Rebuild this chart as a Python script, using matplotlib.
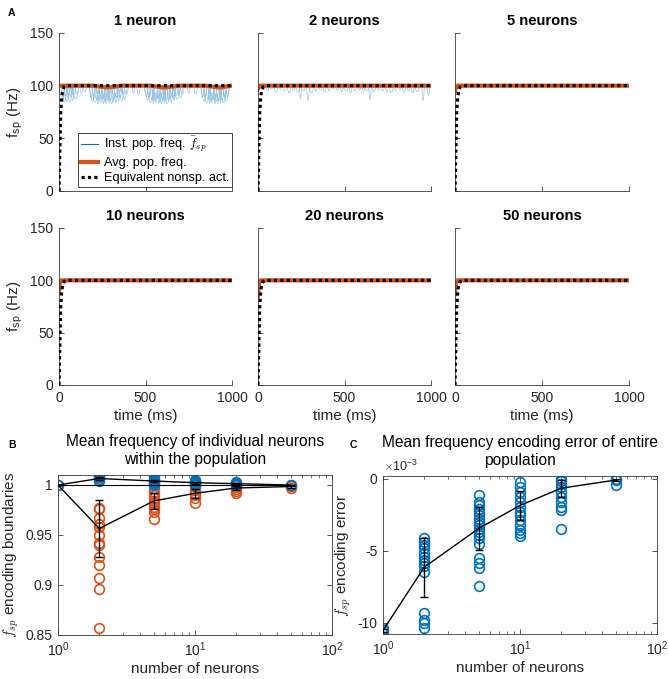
import matplotlib
matplotlib.use('Agg')
import matplotlib.pyplot as plt
from matplotlib.lines import Line2D
import numpy as np

plt.rcParams['font.family'] = ['Liberation Sans', 'DejaVu Sans']
plt.rcParams['mathtext.fontset'] = 'cm'
plt.rcParams['axes.unicode_minus'] = False

BLUE = '#0072BD'
ORANGE = '#D95319'
AXC = '#3a3a3a'
TXT = '#262626'

# ---------------- data: panel A ----------------
panel_titles = ['1 neuron', '2 neurons', '5 neurons', '10 neurons', '20 neurons', '50 neurons']
avg_start = [100, 97, 95, 90, 85, 87]          # avg pop. freq at t=0 (Hz)

# instantaneous population frequency: dips below 100 Hz (time ms, minimum Hz)
dip1_t = [22, 30, 38, 46, 54, 62, 70, 78, 86, 95, 104, 130, 150,
          185, 193, 201, 209, 217, 225, 233, 241, 249, 257, 265, 273, 281, 289, 297, 305, 313,
          321, 329, 337, 345, 353, 362, 371, 380, 390, 430, 460,
          505, 513, 521, 529, 537, 545, 553, 561, 569, 577, 585, 593, 601, 609, 617, 625, 633,
          641, 649, 657, 665, 674, 683, 693, 703, 713, 750, 790,
          830, 838, 846, 854, 862, 870, 878, 886, 894, 902, 910, 918, 926, 934, 942, 950, 958, 966, 974]
dip1_f = [87, 84, 89, 85, 88, 84, 90, 86, 91, 87, 92, 92, 94,
          89, 85, 88, 84, 87, 83, 86, 84, 88, 83, 85, 83, 87, 84, 86, 83, 85,
          88, 84, 89, 85, 90, 86, 91, 87, 92, 93, 91,
          90, 86, 89, 84, 87, 83, 86, 84, 88, 83, 85, 83, 87, 84, 86, 83, 85,
          88, 84, 89, 86, 90, 87, 91, 88, 92, 93, 92,
          89, 85, 88, 84, 87, 83, 86, 84, 87, 83, 85, 83, 86, 84, 87, 84, 88, 85, 89]
dip1_w = [10, 16, 12, 20, 9, 14, 18, 11, 15, 22, 12, 10, 12,
          12, 18, 10, 22, 14, 9, 19, 13, 24, 10, 16, 12, 20, 9, 15, 21, 11,
          17, 13, 23, 10, 15, 19, 12, 16, 14, 10, 12,
          13, 19, 10, 22, 14, 9, 18, 12, 24, 11, 16, 13, 20, 9, 15, 21, 11,
          17, 13, 23, 10, 15, 19, 12, 16, 14, 10, 12,
          12, 18, 10, 22, 14, 9, 19, 13, 24, 10, 16, 12, 20, 9, 15, 21, 11, 17, 13]
dip2_t = [30, 55, 80, 105, 130, 155, 180, 205, 230, 245, 265, 289, 310, 335, 360, 385, 410, 435,
          460, 485, 510, 535, 560, 585, 610, 630, 647, 670, 695, 720, 745, 770, 795, 820, 845,
          870, 895, 920, 954, 985]
dip2_f = [96, 95, 97, 94, 96, 95, 93, 96, 94, 88, 95, 86, 93, 95, 96, 94, 95, 97, 96, 94, 95,
          93, 95, 96, 94, 95, 87, 94, 96, 95, 94, 93, 95, 96, 94, 95, 93, 94, 86, 91]
dip2_w = [14, 10, 16, 12, 9, 15, 13, 11, 16, 8, 12, 9, 14, 10, 16, 12, 9, 15, 13, 11,
          16, 10, 14, 12, 9, 15, 8, 13, 11, 16, 10, 14, 12, 9, 15, 13, 11, 16, 8, 10]
dip_t = [dip1_t, dip2_t, [], [], [], []]
dip_f = [dip1_f, dip2_f, [], [], [], []]
dip_w = [dip1_w, dip2_w, [], [], [], []]

# average population frequency for 1 neuron (slow undulation)
avg1_t = [0, 200, 240, 280, 320, 360, 530, 570, 610, 650, 690, 850, 890, 930, 970, 1000]
avg1_f = [100, 100, 99, 98.2, 99, 100, 100, 99, 98.2, 99, 100, 100, 99, 98.2, 99.3, 100]

# equivalent non-spiking activity
eq_t = [0, 5, 10, 16, 22, 30, 45, 1000]
eq_f = [0, 40, 75, 90, 96, 99, 100, 100]

# ---------------- data: panels B and C ----------------
n_neurons = [1, 2, 5, 10, 20, 50]
upper_pts = {1: [1.0],
             2: [1.0043, 1.006, 1.0077, 1.009, 1.0105],
             5: [1.0, 1.001, 1.002, 1.003, 1.004, 1.005, 1.006, 1.008],
             10: [1.0, 1.001, 1.002, 1.003, 1.004, 1.005],
             20: [1.0, 1.001, 1.002, 1.003],
             50: [1.0, 1.0005]}
lower_pts = {1: [1.0],
             2: [0.9773, 0.9757, 0.9667, 0.961, 0.9583, 0.95, 0.9417, 0.94, 0.9277, 0.92, 0.9067, 0.896, 0.8567],
             5: [0.9967, 0.9933, 0.99, 0.9867, 0.9843, 0.9817, 0.9783, 0.9757, 0.9733, 0.9657],
             10: [0.9977, 0.995, 0.9923, 0.99, 0.9867, 0.9817],
             20: [0.9983, 0.996, 0.994, 0.9923],
             50: [0.999, 0.9967]}
upper_mean = [1.0, 1.0065, 1.004, 1.0023, 1.0013, 1.0]
upper_err = [0.0, 0.0015, 0.0012, 0.0008, 0.0005, 0.0002]
lower_mean = [1.0, 0.9565, 0.984, 0.9917, 0.997, 0.9985]
lower_err = [0.0, 0.0285, 0.008, 0.0045, 0.002, 0.001]
overall_mean = [1.0, 1.0, 1.0, 1.0, 1.0, 1.0]

err_pts = {1: [-10.4e-3, -10.55e-3, -10.7e-3],
           2: [-4.15e-3, -4.38e-3, -4.6e-3, -4.84e-3, -5.18e-3, -5.41e-3, -5.65e-3, -5.88e-3,
               -6.1e-3, -6.45e-3, -9.33e-3, -9.8e-3, -10.0e-3, -10.37e-3],
           5: [-1.15e-3, -1.61e-3, -1.84e-3, -2.07e-3, -2.3e-3, -2.53e-3, -2.76e-3, -3.0e-3, -3.23e-3,
               -3.46e-3, -3.69e-3, -3.92e-3, -4.15e-3, -4.5e-3, -5.53e-3, -5.88e-3, -6.22e-3, -7.49e-3],
           10: [-0.23e-3, -0.58e-3, -0.92e-3, -1.27e-3, -1.61e-3, -1.96e-3, -2.3e-3, -2.53e-3,
                -2.88e-3, -3.23e-3, -3.57e-3, -3.8e-3, -3.99e-3],
           20: [0.0, -0.12e-3, -0.35e-3, -0.58e-3, -0.92e-3, -1.27e-3, -1.61e-3, -1.96e-3, -2.19e-3, -3.46e-3],
           50: [0.0, -0.1e-3, -0.45e-3]}
err_mean = [-10.55e-3, -6.15e-3, -3.45e-3, -1.85e-3, -0.65e-3, -0.08e-3]
err_sd = [0.1e-3, 2.05e-3, 1.5e-3, 1.0e-3, 0.6e-3, 0.1e-3]

# ---------------- layout ----------------
W, H = 669, 679
fig = plt.figure(figsize=(W / 100, H / 100), dpi=100)

TICK_FS = 10
LAB_FS = 11


def rect(x0, y0, x1, y1):
    return [x0 / W, 1 - y1 / H, (x1 - x0) / W, (y1 - y0) / H]


cols = [(59, 232), (258, 431), (455, 629)]
rows = [(33, 191), (228, 385)]


def dips_to_line(times, mins, widths):
    t, f = [], []
    for tc, m, hw in zip(times, mins, widths):
        d = 100 - m
        t += [tc - hw, tc - hw * 0.6, tc - hw * 0.25, tc, tc + hw * 0.25, tc + hw * 0.6, tc + hw, np.nan]
        f += [100, 100 - 0.55 * d, 100 - 0.93 * d, m, 100 - 0.93 * d, 100 - 0.55 * d, 100, np.nan]
    return t, f


def style_axes(ax, box=False):
    for s in ['left', 'bottom', 'top', 'right']:
        ax.spines[s].set_color(AXC)
        ax.spines[s].set_linewidth(0.6)
    if not box:
        ax.spines['top'].set_visible(False)
        ax.spines['right'].set_visible(False)
    ax.tick_params(direction='in', length=3.5, width=0.6, colors=AXC, pad=4,
                   labelcolor=TXT, labelsize=TICK_FS, top=box, right=box, which='major')
    ax.tick_params(which='minor', direction='in', length=2, width=0.5, colors=AXC, top=box, right=box)


for i in range(6):
    r, c = divmod(i, 3)
    ax = fig.add_axes(rect(cols[c][0], rows[r][0], cols[c][1], rows[r][1]))
    style_axes(ax)
    if dip_t[i]:
        bt, bf = dips_to_line(dip_t[i], dip_f[i], dip_w[i])
        ax.plot(bt, bf, color=BLUE, lw=0.5, alpha=0.4, zorder=1)
    if i == 0:
        ax.plot(avg1_t, avg1_f, color=ORANGE, lw=3.0, zorder=2, solid_capstyle='butt')
    else:
        ax.plot([0, 6, 14, 1000], [avg_start[i], 98.5, 100, 100], color=ORANGE, lw=3.0, zorder=2)
    ax.plot(eq_t, eq_f, color='black', lw=2.3, linestyle=(0, (1, 1)), zorder=3)
    ax.set_xlim(0, 1000)
    ax.set_ylim(0, 150)
    ax.set_xticks([0, 500, 1000])
    ax.set_yticks([0, 50, 100, 150])
    ax.set_title(panel_titles[i], fontsize=10.6, fontweight='bold', pad=6, color='black')
    if c == 0:
        ax.set_ylabel(r'f$_{\mathdefault{sp}}$ (Hz)', fontsize=LAB_FS, color=TXT, labelpad=4)
    else:
        ax.set_yticklabels([])
    if r == 1:
        ax.set_xlabel('time (ms)', fontsize=LAB_FS, color=TXT, labelpad=3)
    else:
        ax.set_xticklabels([])
    if i == 0:
        handles = [Line2D([], [], color=BLUE, lw=0.8),
                   Line2D([], [], color=ORANGE, lw=3.0),
                   Line2D([], [], color='black', lw=2.3, linestyle=(0, (1, 1)))]
        labels = [r'Inst. pop. freq. $\bar{f}_{sp}$', 'Avg. pop. freq.', 'Equivalent nonsp. act.']
        leg = ax.legend(handles, labels, loc='lower right', bbox_to_anchor=(1.0, 0.025),
                        fontsize=9.2, frameon=True, fancybox=False, edgecolor=TXT,
                        framealpha=1, borderpad=0.2, handlelength=1.35, labelspacing=0.24,
                        handletextpad=0.45, borderaxespad=0)
        leg.get_frame().set_linewidth(0.6)

# ---------------- panel B ----------------
axB = fig.add_axes(rect(58, 475, 332, 635))
style_axes(axB, box=True)
for n in n_neurons:
    axB.plot([n] * len(lower_pts[n]), lower_pts[n], 'o', mfc='none', mec=ORANGE, ms=7, mew=1.2, zorder=2)
for n in n_neurons:
    axB.plot([n] * len(upper_pts[n]), upper_pts[n], 'o', mfc='none', mec=BLUE, ms=7, mew=1.2, zorder=2)
axB.plot(n_neurons, overall_mean, color='black', lw=0.8, zorder=3)
axB.errorbar(n_neurons, upper_mean, yerr=upper_err, color='black', lw=1.0, capsize=3, capthick=1.0, zorder=4)
axB.errorbar(n_neurons, lower_mean, yerr=lower_err, color='black', lw=1.0, capsize=3, capthick=1.0, zorder=4)
axB.set_xscale('log')
axB.set_xlim(1, 100)
axB.set_ylim(0.85, 1.01)
axB.set_yticks([0.85, 0.9, 0.95, 1.0])
axB.set_yticklabels(['0.85', '0.9', '0.95', '1'])
axB.set_xlabel('number of neurons', fontsize=LAB_FS, color=TXT, labelpad=2)
axB.set_ylabel(r'$f_{sp}$ encoding boundaries', fontsize=LAB_FS, color=TXT, labelpad=3)
axB.set_title('Mean frequency of individual neurons\nwithin the population', fontsize=11.2,
              color='black', pad=8, linespacing=1.25)

# ---------------- panel C ----------------
axC = fig.add_axes(rect(383, 476, 657, 634))
style_axes(axC, box=True)
for n in n_neurons:
    axC.plot([n] * len(err_pts[n]), err_pts[n], 'o', mfc='none', mec=BLUE, ms=7, mew=1.2, zorder=2)
axC.errorbar(n_neurons, err_mean, yerr=err_sd, color='black', lw=1.0, capsize=3, capthick=1.0, zorder=4)
axC.set_xscale('log')
axC.set_xlim(1, 100)
axC.set_ylim(-10.8e-3, 0.2e-3)
axC.set_yticks([-10e-3, -5e-3, 0])
axC.set_yticklabels(['-10', '-5', '0'])
axC.text(0.0, 1.01, r'$\times\mathdefault{10^{-3}}$', transform=axC.transAxes, fontsize=9,
         color=TXT, ha='left', va='bottom')
axC.set_xlabel('number of neurons', fontsize=LAB_FS, color=TXT, labelpad=2)
axC.set_ylabel(r'$f_{sp}$ encoding error', fontsize=LAB_FS, color=TXT, labelpad=3)
# two-line title as two separate texts so line 1 does not enclose the exponent label
fig.text((383 + 657) / 2 / W, 1 - 442 / H, 'Mean frequency encoding error of entire',
         fontsize=11.2, color='black', ha='center', va='center')
fig.text((383 + 657) / 2 / W, 1 - 460 / H, 'population',
         fontsize=11.2, color='black', ha='center', va='center')

# panel letters
fig.text(8 / W, 1 - 13 / H, 'A', fontsize=7.5, fontweight='bold', ha='left', va='center')
fig.text(8 / W, 1 - 445 / H, 'B', fontsize=7.5, fontweight='bold', ha='left', va='center')
fig.text(350 / W, 1 - 445 / H, 'C', fontsize=7.5, fontweight='bold', ha='left', va='center')

fig.savefig('out.png', dpi=100)
